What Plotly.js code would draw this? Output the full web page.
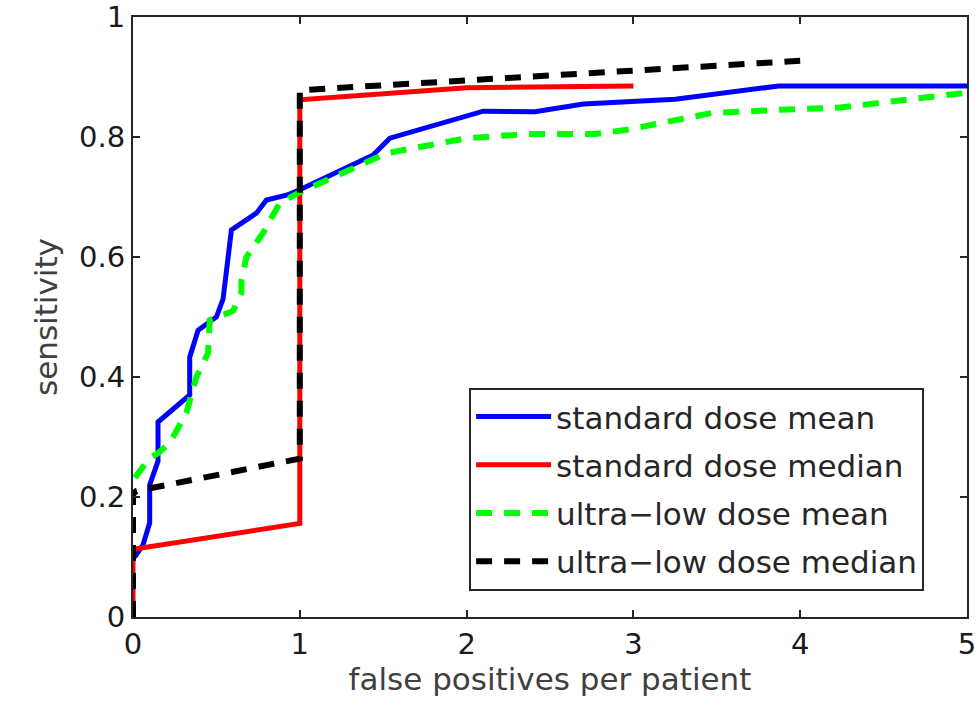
<!DOCTYPE html>
<html>
<head>
<meta charset="utf-8">
<script src="https://cdn.plot.ly/plotly-3.0.1.min.js"></script>
<style>html,body{margin:0;padding:0;background:#fff;}#chart{width:978px;height:705px;}</style>
</head>
<body>
<div id="chart"></div>
<script>
// Series names
const seriesNames = ["standard dose mean", "standard dose median", "ultra\u2212low dose mean", "ultra\u2212low dose median"];

// standard dose mean (blue)
const stdMeanX = [0.01, 0.06, 0.10, 0.10, 0.15, 0.15, 0.34, 0.34, 0.39, 0.50, 0.54, 0.56, 0.59, 0.74, 0.80, 0.92, 1.00, 1.44, 1.54, 2.10, 2.41, 2.70, 3.25, 3.87, 5.00];
const stdMeanY = [0.100, 0.120, 0.157, 0.220, 0.260, 0.325, 0.370, 0.433, 0.478, 0.500, 0.530, 0.578, 0.645, 0.673, 0.695, 0.703, 0.712, 0.770, 0.798, 0.843, 0.842, 0.855, 0.863, 0.885, 0.885];

// standard dose median (red)
const stdMedX = [0, 0, 1.0, 1.0, 2.0, 3.0];
const stdMedY = [0, 0.113, 0.156, 0.862, 0.882, 0.885];

// ultra-low dose mean (green)
const ulMeanX = [0, 0, 0.10, 0.15, 0.22, 0.32, 0.38, 0.45, 0.46, 0.60, 0.65, 0.65, 0.68, 0.78, 0.88, 1.00, 1.52, 2.00, 2.37, 2.77, 2.96, 3.30, 3.47, 3.85, 4.24, 4.57, 5.00];
const ulMeanY = [0, 0.228, 0.265, 0.273, 0.290, 0.340, 0.400, 0.440, 0.495, 0.510, 0.540, 0.560, 0.600, 0.640, 0.690, 0.708, 0.773, 0.798, 0.805, 0.805, 0.812, 0.832, 0.840, 0.845, 0.849, 0.860, 0.874];

// ultra-low dose median (black)
const ulMedX = [0, 0, 0.02, 1.0, 1.0, 2.0, 3.0, 4.0];
const ulMedY = [0, 0.205, 0.210, 0.264, 0.878, 0.895, 0.911, 0.927];

// Axis ticks
const xTicks = [0, 1, 2, 3, 4, 5];
const yTicks = [0, 0.2, 0.4, 0.6, 0.8, 1];
const yTickText = ["0", "0.2", "0.4", "0.6", "0.8", "1"];

const FONT = "DejaVu Sans";

const traces = [
  {x: stdMeanX, y: stdMeanY, name: seriesNames[0], legendgroup: "a", mode: "lines",
   line: {color: "#0000ff", width: 5}},
  {x: stdMedX, y: stdMedY, name: seriesNames[1], legendgroup: "b", mode: "lines",
   line: {color: "#ff0000", width: 5}},
  {x: ulMeanX, y: ulMeanY, name: seriesNames[2], legendgroup: "c", mode: "lines",
   line: {color: "#00ff00", width: 6, dash: "16px,12px"}},
  {x: ulMedX, y: ulMedY, name: seriesNames[3], legendgroup: "d", mode: "lines",
   line: {color: "#000000", width: 6, dash: "16px,12px"}}
];

const axisCommon = {
  showline: true, linecolor: "#262626", linewidth: 2, mirror: "allticks",
  ticks: "inside", ticklen: 7, tickwidth: 2, tickcolor: "#262626",
  showgrid: false, zeroline: false,
  tickfont: {family: FONT, size: 29, color: "#1a1a1a"}
};

const layout = {
  width: 978, height: 705,
  margin: {l: 133, r: 11, t: 17, b: 88},
  paper_bgcolor: "#ffffff", plot_bgcolor: "#ffffff",
  showlegend: true,
  xaxis: Object.assign({}, axisCommon, {
    range: [0, 5], tickvals: xTicks, ticktext: xTicks.map(String),
    title: {text: "false positives per patient", standoff: 4,
            font: {family: FONT, size: 31, color: "#404040"}}
  }),
  yaxis: Object.assign({}, axisCommon, {
    range: [0, 1], tickvals: yTicks, ticktext: yTickText,
    title: {text: "sensitivity", standoff: 12,
            font: {family: FONT, size: 31, color: "#404040"}}
  }),
  legend: {
    x: 0.403, y: 0.382, xanchor: "left", yanchor: "top",
    bgcolor: "#ffffff", bordercolor: "#262626", borderwidth: 2,
    font: {family: FONT, size: 31, color: "#262626"},
    itemwidth: 75, tracegroupgap: 5, traceorder: "grouped"
  }
};

Plotly.newPlot("chart", traces, layout, {displayModeBar: false, staticPlot: true});
</script>
</body>
</html>
